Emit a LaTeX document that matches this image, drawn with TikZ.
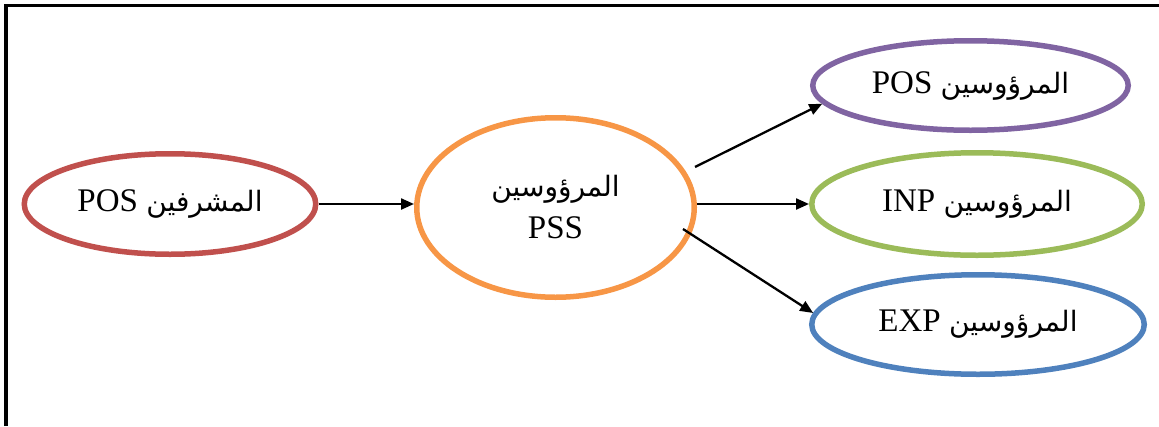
\documentclass[tikz,border=0pt]{standalone}
\usepackage{fontspec}
\setmainfont{Liberation Serif}
\newfontfamily\arabicfont[Script=Arabic,Scale=0.85]{DejaVu Sans}
\TeXXeTstate=1
\usetikzlibrary{shapes.geometric,arrows.meta}
\definecolor{cred}{HTML}{C0504D}
\definecolor{corange}{HTML}{F79646}
\definecolor{cpurple}{HTML}{8064A2}
\definecolor{cgreen}{HTML}{9BBB59}
\definecolor{cblue}{HTML}{4F81BD}
\tikzset{
  oval/.style={ellipse, draw, line width=5.5pt, inner sep=0pt, align=center,
    font=\fontsize{33}{40}\selectfont},
  arr/.style={line width=2.3pt, -{Triangle[length=13pt,width=11pt]}},
}
\newcommand{\ar}[1]{{\arabicfont\beginR #1\endR}}
\begin{document}
\begin{tikzpicture}[x=1pt,y=-1pt]
\useasboundingbox (0,0) rectangle (1159,426);
\draw[line width=3.5pt] (6,426) -- (6,5.5) -- (1159,5.5);
\node[oval, cred, minimum width=291.5pt, minimum height=100.5pt, text=black] (sup) at (170,204)
  {\beginR\ar{المشرفين} \beginL POS\endL\endR};
\node[oval, corange, minimum width=277.5pt, minimum height=179.5pt, text=black] (pss) at (555.5,207.5)
  {\ar{المرؤوسين}\\[2pt] PSS};
\node[oval, cpurple, minimum width=315.5pt, minimum height=89.5pt, text=black] (pos) at (970.5,85.5)
  {\beginR\ar{المرؤوسين} \beginL POS\endL\endR};
\node[oval, cgreen, minimum width=330.5pt, minimum height=102.5pt, text=black] (inp) at (977,204)
  {\beginR\ar{المرؤوسين} \beginL INP\endL\endR};
\node[oval, cblue, minimum width=332.5pt, minimum height=99.5pt, text=black] (exp) at (978,324.5)
  {\beginR\ar{المرؤوسين} \beginL EXP\endL\endR};
\coordinate (s1) at (695,167);
\coordinate (s3) at (683,229);
\draw[arr] (sup.east) -- (pss.west |- sup.east);
\draw[arr] (s1) -- (pos.187);
\draw[arr] (pss.east |- inp.west) -- (inp.west);
\draw[arr] (s3) -- (exp.176);
\end{tikzpicture}
\end{document}
